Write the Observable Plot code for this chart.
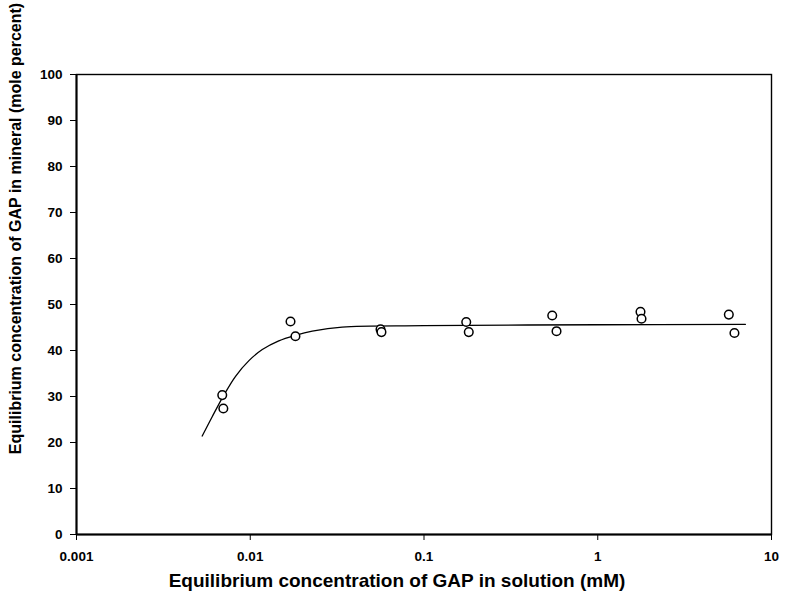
<!DOCTYPE html>
<html>
<head>
<meta charset="utf-8">
<script src="https://cdn.jsdelivr.net/npm/d3@7"></script>
<script src="https://cdn.jsdelivr.net/npm/@observablehq/plot@0.6"></script>
<style>
  html, body { margin: 0; padding: 0; background: #fff; }
  #chart svg { display: block; font-family: "Liberation Sans", Arial, sans-serif; }
  g[aria-label="x-axis tick label"] text, g[aria-label="y-axis tick label"] text { font-weight: bold; }
</style>
</head>
<body>
<div id="chart"></div>
<script>
// Measured points: solution concentration (mM) vs mineral concentration (mole %)
const pointX = [0.0069, 0.0070, 0.01705, 0.0182, 0.0562, 0.0569, 0.175, 0.181, 0.547, 0.579, 1.762, 1.786, 5.68, 6.12];
const pointY = [30.3, 27.4, 46.3, 43.1, 44.6, 44.0, 46.2, 44.0, 47.6, 44.2, 48.4, 46.9, 47.8, 43.8];

// Fitted curve
const curveX = [0.00529, 0.00604, 0.00705, 0.00823, 0.00983, 0.01173, 0.01459, 0.0182, 0.02275, 0.0338, 0.1, 1, 7.08];
const curveY = [21.4, 25.6, 30.3, 34.4, 37.8, 40.2, 42.1, 43.3, 44.2, 45.1, 45.4, 45.6, 45.7];

const xTicks = [0.001, 0.01, 0.1, 1, 10];
const xTickLabels = ["0.001", "0.01", "0.1", "1", "10"];
const yTicks = [0, 10, 20, 30, 40, 50, 60, 70, 80, 90, 100];
const xLabel = "Equilibrium concentration of GAP in solution (mM)";
const yLabel = "Equilibrium concentration of GAP in mineral (mole percent)";

const points = pointX.map((x, i) => ({x, y: pointY[i]}));
const curve = curveX.map((x, i) => ({x, y: curveY[i]}));

const chart = Plot.plot({
  width: 786,
  height: 600,
  marginLeft: 76,
  marginRight: 15,
  marginTop: 74,
  marginBottom: 66,
  style: {background: "#fff", color: "#000", fontSize: "13px"},
  x: {type: "log", domain: [0.001, 10]},
  y: {domain: [0, 100]},
  marks: [
    Plot.frame({stroke: "#000", strokeWidth: 1.4}),
    Plot.axisX({
      ticks: xTicks,
      tickFormat: d => xTickLabels[xTicks.indexOf(d)],
      tickSize: 6,
      tickPadding: 11,
      fontSize: 13.5,
      label: null
    }),
    Plot.axisY({
      ticks: yTicks,
      tickSize: 6,
      tickPadding: 8,
      fontSize: 13.5,
      label: null
    }),
    Plot.text([xLabel], {
      frameAnchor: "bottom",
      text: d => d,
      textAnchor: "middle",
      lineAnchor: "middle",
      dx: -27,
      dy: 46,
      fontSize: 19,
      fontWeight: "bold",
      fill: "#000"
    }),
    Plot.text([yLabel], {
      frameAnchor: "left",
      text: d => d,
      textAnchor: "middle",
      lineAnchor: "middle",
      rotate: -90,
      dx: -61,
      dy: -76,
      fontSize: 16,
      fontWeight: "bold",
      fill: "#000"
    }),
    Plot.ruleX([0.001], {stroke: "#000", strokeWidth: 2}),
    Plot.ruleY([0], {stroke: "#000", strokeWidth: 2}),
    Plot.line(curve, {x: "x", y: "y", curve: "catmull-rom", stroke: "#000", strokeWidth: 1.3}),
    Plot.dot(points, {x: "x", y: "y", r: 4.3, stroke: "#000", fill: "#fff", strokeWidth: 1.5})
  ]
});
document.getElementById("chart").appendChild(chart);
</script>
</body>
</html>
